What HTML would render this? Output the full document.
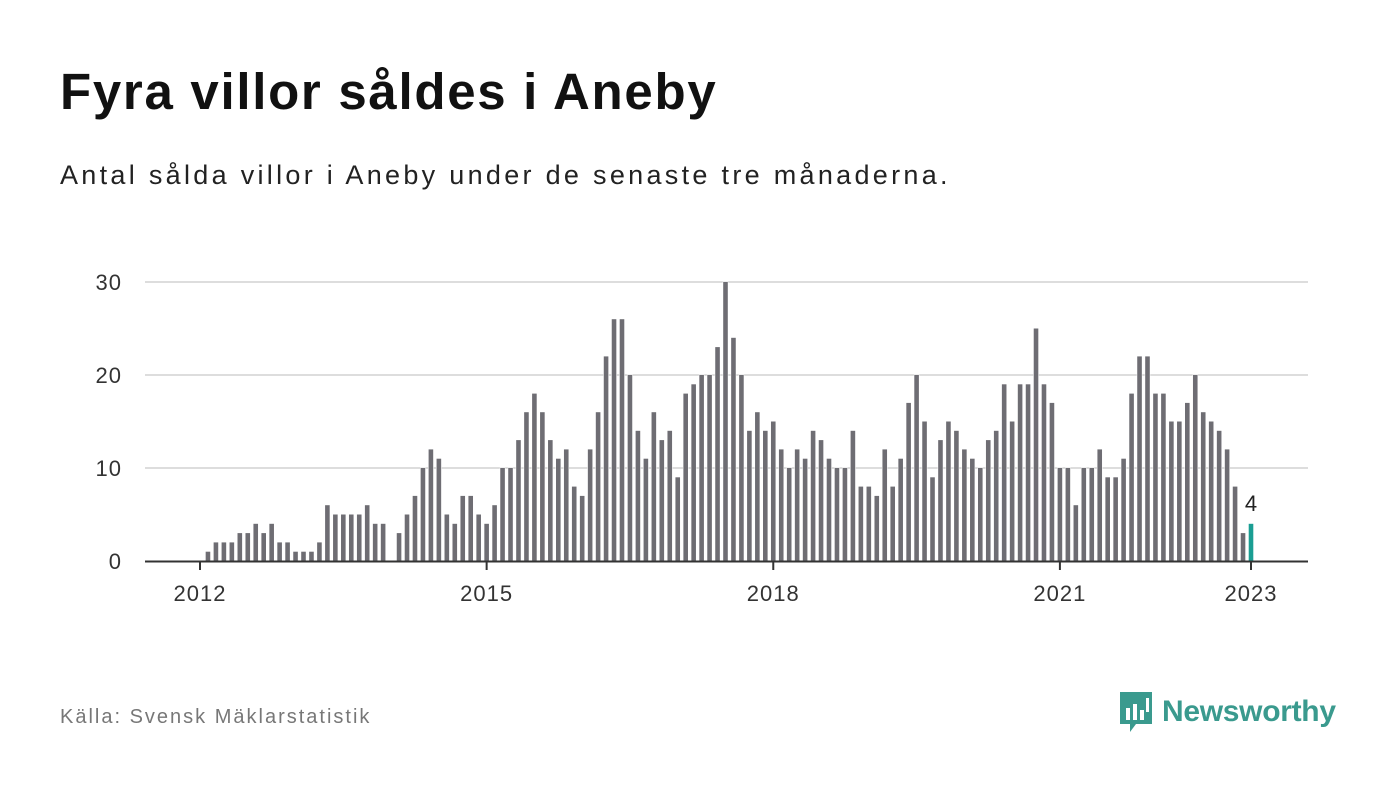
<!DOCTYPE html>
<html><head><meta charset="utf-8">
<style>
body{margin:0;width:1400px;height:794px;background:#fff;font-family:"Liberation Sans",sans-serif;overflow:hidden;position:relative}
#title{position:absolute;left:60px;top:62px;font-size:51px;font-weight:bold;color:#111;margin:0;letter-spacing:1.7px}
#sub{position:absolute;left:60px;top:160px;font-size:27px;color:#222;letter-spacing:3.3px}
#src{position:absolute;left:60px;top:706px;font-size:20px;color:#777;letter-spacing:2px}
#logo{position:absolute;left:1118px;top:690px;display:flex;align-items:center}
#logo span{font-size:30px;font-weight:bold;color:#3a9a8e;margin-left:8px;letter-spacing:-0.3px}
svg text{font-family:"Liberation Sans",sans-serif}
</style></head><body>
<h1 id="title">Fyra villor såldes i Aneby</h1>
<div id="sub">Antal sålda villor i Aneby under de senaste tre månaderna.</div>
<svg id="chart" width="1400" height="794" style="position:absolute;left:0;top:0"></svg>
<div id="src">Källa: Svensk Mäklarstatistik</div>
<div id="logo">
<svg width="36" height="44" viewBox="0 0 36 44"><path d="M2 2h32v32H18l-6 8v-8H2z" fill="#3a9a8e"/><rect x="8" y="18" width="4" height="12" fill="#fff"/><rect x="15" y="14" width="4" height="16" fill="#fff"/><rect x="22" y="20" width="4" height="10" fill="#fff"/><rect x="28" y="8" width="3" height="14" fill="#fff"/></svg>
<span>Newsworthy</span></div>
<script>
const startYear = 2012;
const values = [
0,1,2,2,2,3,3,4,3,4,2,2,
1,1,1,2,6,5,5,5,5,6,4,4,
0,3,5,7,10,12,11,5,4,7,7,5,
4,6,10,10,13,16,18,16,13,11,12,8,
7,12,16,22,26,26,20,14,11,16,13,14,
9,18,19,20,20,23,30,24,20,14,16,14,
15,12,10,12,11,14,13,11,10,10,14,8,
8,7,12,8,11,17,20,15,9,13,15,14,
12,11,10,13,14,19,15,19,19,25,19,17,
10,10,6,10,10,12,9,9,11,18,22,22,
18,18,15,15,17,20,16,15,14,12,8,3,
4];
const yTicks = [0,10,20,30];
const xTickYears = [2012,2015,2018,2021,2023];
const NS="http://www.w3.org/2000/svg";
const svg=document.getElementById('chart');
const x0=200, step=(1251-200)/132, yBase=561, yUnit=(561-282)/30;
const X=i=>x0+i*step, Y=v=>yBase-v*yUnit;
function mk(t,a){const e=document.createElementNS(NS,t);for(const k in a)e.setAttribute(k,a[k]);svg.appendChild(e);return e;}
yTicks.forEach(v=>{
  if(v>0){const g=mk('line',{x1:145,x2:1308,y1:Y(v),y2:Y(v),stroke:'#ddd','stroke-width':2});
  
  }
  const t=mk('text',{x:122,y:Y(v)+8,'text-anchor':'end','font-size':22,fill:'#333','letter-spacing':1});
  t.textContent=v;
  
  
});
values.forEach((v,i)=>{
  if(v<=0)return;
  const last=i===values.length-1;
  const r=mk('rect',{x:X(i)-2.3,y:Y(v),width:4.6,height:v*yUnit,fill:last?'#1a9e93':'#6e6d73',stroke:'#fff','stroke-width':1,'paint-order':'stroke'});
  
  
});
const ax=mk('line',{x1:145,x2:1308,y1:yBase+0.5,y2:yBase+0.5,stroke:'#333','stroke-width':2});


xTickYears.forEach(yr=>{
  const xi=X((yr-startYear)*12);
  const tk=mk('line',{x1:xi,x2:xi,y1:yBase,y2:yBase+9,stroke:'#333','stroke-width':2});
  
  
  const t=mk('text',{x:xi,y:601,'text-anchor':'middle','font-size':22,fill:'#333','letter-spacing':1});
  t.textContent=yr;
  
  
});
const li=values.length-1;
const lab=mk('text',{x:X(li),y:Y(values[li])-13,'text-anchor':'middle','font-size':22,fill:'#222'});
lab.textContent=values[li];


</script>
</body></html>
